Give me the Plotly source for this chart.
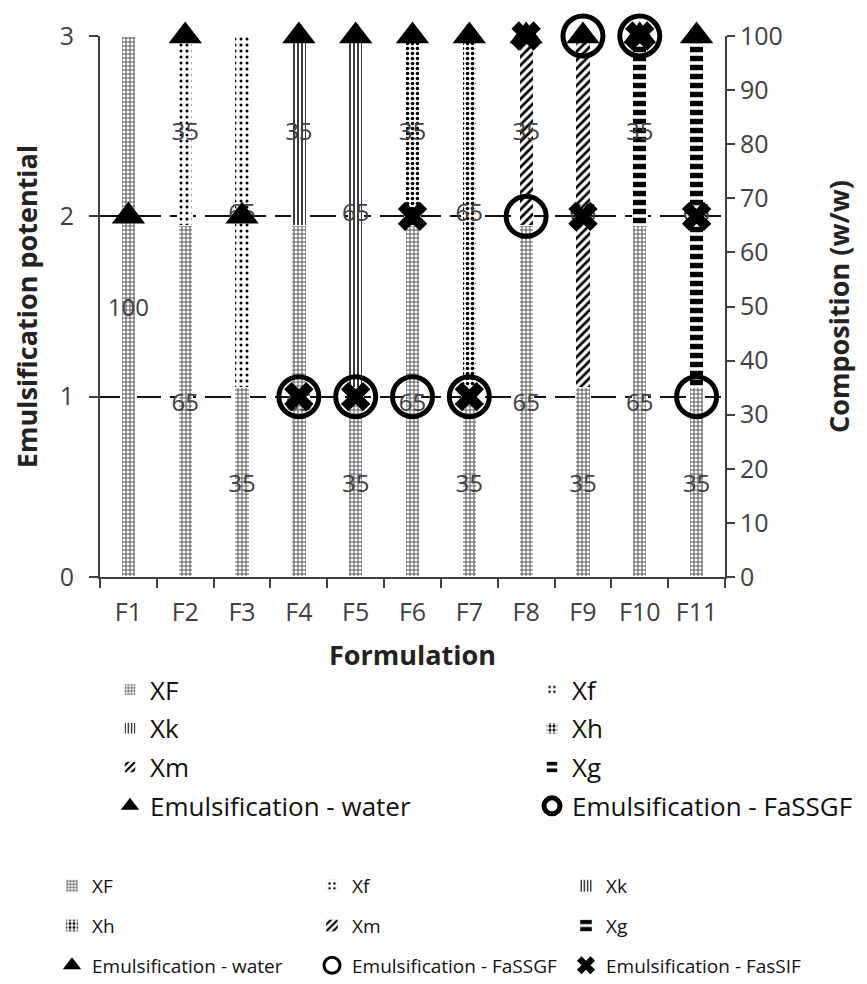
import plotly.graph_objects as go

# ---------------- data ----------------
formulations = ["F1", "F2", "F3", "F4", "F5", "F6", "F7", "F8", "F9", "F10", "F11"]
comp_XF = [100, 65, 35, 65, 35, 65, 35, 65, 35, 65, 35]
comp_Xf = [None, 35, 65, None, None, None, None, None, None, None, None]
comp_Xk = [None, None, None, 35, 65, None, None, None, None, None, None]
comp_Xh = [None, None, None, None, None, 35, 65, None, None, None, None]
comp_Xm = [None, None, None, None, None, None, None, 35, 65, None, None]
comp_Xg = [None, None, None, None, None, None, None, None, None, 35, 65]
emul_water = [2, 3, 2, 3, 3, 3, 3, 3, 3, 3, 3]
emul_fassgf = [None, None, None, 1, 1, 1, 1, 2, 3, 3, 1]
emul_fassif = [None, None, None, 1, 1, 2, 1, 3, 2, 3, 2]

FONT = "Open Sans"
TICKC = "#404040"
OFF = 8  # the page body adds an 8px margin; compensate so the figure lands where the reference has it

bar_series = [
    ("XF", comp_XF, dict(shape="+", size=4, solidity=0.45, fgcolor="#555", bgcolor="white", fgopacity=1)),
    ("Xf", comp_Xf, dict(shape=".", size=6, solidity=0.2, fgcolor="#000", bgcolor="white", fgopacity=1)),
    ("Xk", comp_Xk, dict(shape="|", size=4, solidity=0.38, fgcolor="#000", bgcolor="white", fgopacity=1)),
    ("Xh", comp_Xh, dict(shape=".", size=5, solidity=0.42, fgcolor="#000", bgcolor="white", fgopacity=1)),
    ("Xm", comp_Xm, dict(shape="/", size=6, solidity=0.45, fgcolor="#000", bgcolor="white", fgopacity=1)),
    ("Xg", comp_Xg, dict(shape="-", size=9, solidity=0.6, fgcolor="#000", bgcolor="white", fgopacity=1)),
]
bar_legend = {"XF": "legend", "Xk": "legend", "Xm": "legend",
              "Xf": "legend2", "Xh": "legend2", "Xg": "legend2"}
bar_legend_b = {"XF": "legend3", "Xh": "legend3",
                "Xf": "legend4", "Xm": "legend4",
                "Xk": "legend5", "Xg": "legend5"}

marker_series = [
    ("Emulsification - water", emul_water, dict(symbol="triangle-up", size=29, color="black"), "legend", "legend3"),
    ("Emulsification - FaSSGF", emul_fassgf, dict(symbol="circle-open", size=40, color="black", line=dict(width=5, color="black")), "legend2", "legend4"),
    ("Emulsification - FasSIF", emul_fassif, dict(symbol="x", size=26, color="black"), None, "legend5"),
]

fig = go.Figure()

for name, vals, pat in bar_series:
    fig.add_trace(go.Bar(
        x=formulations, y=vals, name=name, yaxis="y",
        width=0.26,
        marker=dict(color="white", pattern=pat, line=dict(color="white", width=1.5)),
        text=vals, texttemplate="%{text}", textposition="inside", textangle=0,
        insidetextanchor="middle", constraintext="none", cliponaxis=False,
        insidetextfont=dict(family=FONT, size=24, color=TICKC),
        legend=bar_legend[name], legendgroup="a" + name, legendrank=100,
        hoverinfo="skip",
    ))

for name, vals, mk, lg, lgb in marker_series:
    fig.add_trace(go.Scatter(
        x=formulations, y=vals, name=name, yaxis="y2", mode="markers",
        marker=mk, cliponaxis=False,
        legend=(lg if lg else lgb), legendgroup="a" + name,
        legendrank=(200 if lg else 900),
    ))

# legend-only duplicates for the bottom legend
for name, vals, pat in bar_series:
    fig.add_trace(go.Bar(
        x=formulations, y=[None for _ in vals], name=name, yaxis="y", width=0.26,
        marker=dict(color="white", pattern=pat),
        legend=bar_legend_b[name], legendgroup="b" + name, legendrank=100,
    ))
for name, vals, mk, lg, lgb in marker_series:
    if lg is None:
        continue
    mk2 = dict(mk)
    mk2["size"] = mk["size"] * 0.55
    if "line" in mk:
        mk2["line"] = dict(width=3, color="black")
    fig.add_trace(go.Scatter(
        x=formulations, y=[None for _ in vals], name=name, yaxis="y2", mode="markers",
        marker=mk2, legend=lgb, legendgroup="b" + name, legendrank=200,
    ))

# reference-pixel -> paper coordinates (plot area spans x 100..725, y 36..577 in the reference)
def px2x(px):
    return (px - 100) / 625.0

def px2y(py):
    return (577 - py) / 541.0

leg_common = dict(orientation="v", xanchor="left", yanchor="top", bgcolor="rgba(0,0,0,0)",
                  traceorder="grouped", itemclick=False, itemdoubleclick=False)
big = dict(font=dict(family=FONT, size=26, color="#111"), tracegroupgap=2, **leg_common)
small = dict(font=dict(family=FONT, size=19, color="#111"), tracegroupgap=12, **leg_common)

TITLE_FONT = dict(family=FONT, size=27, color="#222")

fig.update_layout(
    width=867 - OFF, height=984 - OFF, autosize=False,
    margin=dict(l=100 - OFF, r=142, t=36 - OFF, b=407, autoexpand=False),
    paper_bgcolor="white", plot_bgcolor="white",
    barmode="stack", bargap=0.74,
    font=dict(family=FONT, color=TICKC),
    showlegend=True,
    xaxis=dict(
        type="category", categoryorder="array", categoryarray=formulations,
        range=[-0.5, 10.5], showline=True, linecolor="#404040", linewidth=2,
        ticks="outside", tickson="boundaries", ticklen=9, tickwidth=2, tickcolor="#404040",
        tickfont=dict(family=FONT, size=25, color=TICKC), showgrid=False, ticklabelstandoff=12,
        automargin=False,
        title=dict(text="<b>Formulation</b>", font=TITLE_FONT, standoff=19),
    ),
    yaxis=dict(
        side="right", range=[0, 100], dtick=10, showline=True, linecolor="#404040", linewidth=2,
        ticks="outside", ticklen=8, tickwidth=2, tickcolor="#404040", showgrid=False, zeroline=False,
        tickfont=dict(family=FONT, size=25, color=TICKC), automargin=False,
        title=dict(text="<b>Composition (w/w)</b>", font=TITLE_FONT, standoff=48),
    ),
    yaxis2=dict(
        side="left", overlaying="y", range=[0, 3], dtick=1, showline=True, linecolor="#404040", linewidth=2,
        ticks="outside", ticklen=9, tickwidth=2, tickcolor="#404040", zeroline=False,
        showgrid=True, gridcolor="#111", gridwidth=2, griddash="26px,9px",
        tickfont=dict(family=FONT, size=25, color=TICKC), ticklabelstandoff=10, automargin=False,
        title=dict(text="<b>Emulsification potential</b>", font=TITLE_FONT, standoff=22),
    ),
    legend=dict(x=px2x(110), y=px2y(666), **big),
    legend2=dict(x=px2x(532), y=px2y(666), **big),
    legend3=dict(x=px2x(52), y=px2y(867), **small),
    legend4=dict(x=px2x(312), y=px2y(867), **small),
    legend5=dict(x=px2x(566), y=px2y(867), **small),
)

fig.write_html("out.html")
